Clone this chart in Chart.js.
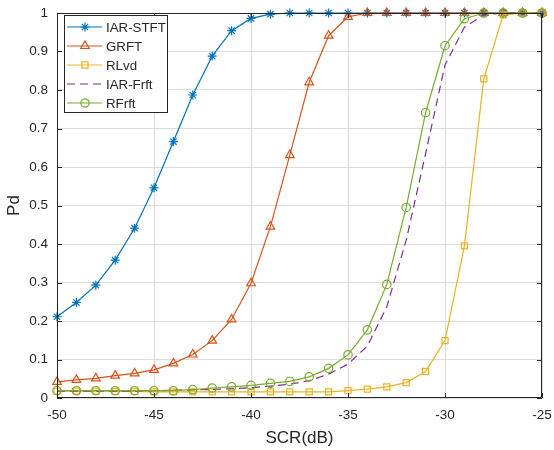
<!DOCTYPE html>
<html>
<head>
<meta charset="utf-8">
<script src="https://cdn.jsdelivr.net/npm/chart.js@4/dist/chart.umd.min.js"></script>
<style>
  html, body { margin: 0; padding: 0; background: #fff; }
  #wrap { width: 554px; height: 450px; }
</style>
</head>
<body>
<div id="wrap"><canvas id="pdChart" width="554" height="450"></canvas></div>
<script>
// SCR in dB, one sample per dB
const scr = [-50, -49, -48, -47, -46, -45, -44, -43, -42, -41, -40, -39, -38,
             -37, -36, -35, -34, -33, -32, -31, -30, -29, -28, -27, -26, -25];

// detection probability per method
const iarStft = [0.211, 0.248, 0.293, 0.358, 0.441, 0.546, 0.666, 0.787, 0.888, 0.954, 0.986, 0.997, 1,
                 1, 1, 1, 1, 1, 1, 1, 1, 1, 1, 1, 1, 1];
const grft = [0.042, 0.047, 0.051, 0.058, 0.064, 0.073, 0.090, 0.113, 0.149, 0.204, 0.298, 0.445, 0.631,
              0.820, 0.941, 0.990, 1, 1, 1, 1, 1, 1, 1, 1, 1, 1];
const rlvd = [0.018, 0.018, 0.018, 0.017, 0.017, 0.016, 0.016, 0.016, 0.016, 0.016, 0.016, 0.016, 0.016,
              0.016, 0.016, 0.019, 0.023, 0.029, 0.040, 0.069, 0.149, 0.395, 0.829, 0.995, 1, 1];
const iarFrft = [0.018, 0.018, 0.018, 0.018, 0.018, 0.019, 0.020, 0.021, 0.022, 0.024, 0.027, 0.031, 0.036,
                 0.045, 0.062, 0.088, 0.135, 0.237, 0.410, 0.635, 0.865, 0.963, 0.995, 1, 1, 1];
const rfrft = [0.019, 0.019, 0.019, 0.019, 0.019, 0.019, 0.019, 0.022, 0.026, 0.029, 0.033, 0.038, 0.043,
               0.055, 0.077, 0.112, 0.177, 0.295, 0.495, 0.741, 0.915, 0.985, 1, 1, 1, 1];

const xTicks = ['-50', '-45', '-40', '-35', '-30', '-25'];
const yTicks = ['0', '0.1', '0.2', '0.3', '0.4', '0.5', '0.6', '0.7', '0.8', '0.9', '1'];

const FONT = '"Liberation Sans", Arial, Helvetica, sans-serif';
const AXIS = '#262626';
const CLEAR = 'rgba(0,0,0,0)';

function pts(arr) {
    return scr.map((x, i) => ({ x: x, y: arr[i] }));
}

const series = [
    { label: 'IAR-STFT', data: iarStft, color: '#0072BD', style: 'star', r: 4.5, dash: [] },
    { label: 'GRFT', data: grft, color: '#D95319', style: 'triangle', r: 5, dash: [] },
    { label: 'RLvd', data: rlvd, color: '#EDB120', style: 'rect', r: 4.3, dash: [] },
    { label: 'IAR-Frft', data: iarFrft, color: '#7E2F8E', style: false, r: 0, dash: [8, 5] },
    { label: 'RFrft', data: rfrft, color: '#77AC30', style: 'circle', r: 4.2, dash: [] }
];

// box around the axes with inward tick marks
const framePlugin = {
    id: 'frame',
    afterDatasetsDraw(chart) {
        const { ctx, chartArea: a, scales } = chart;
        ctx.save();
        ctx.strokeStyle = AXIS;
        ctx.lineWidth = 1;
        ctx.beginPath();
        ctx.moveTo(a.left + 0.5, a.top + 0.5);
        ctx.lineTo(a.right - 0.5, a.top + 0.5);
        ctx.lineTo(a.right - 0.5, a.bottom - 0.5);
        ctx.lineTo(a.left + 0.5, a.bottom - 0.5);
        ctx.closePath();
        ctx.stroke();
        ctx.beginPath();
        scales.y.ticks.forEach(t => {
            const y = Math.round(scales.y.getPixelForValue(t.value)) + 0.5;
            ctx.moveTo(a.left, y); ctx.lineTo(a.left + 5, y);
            ctx.moveTo(a.right, y); ctx.lineTo(a.right - 5, y);
        });
        scales.x.ticks.forEach(t => {
            const x = Math.round(scales.x.getPixelForValue(t.value)) + 0.5;
            ctx.moveTo(x, a.bottom); ctx.lineTo(x, a.bottom - 5);
            ctx.moveTo(x, a.top); ctx.lineTo(x, a.top + 5);
        });
        ctx.stroke();
        ctx.restore();
    }
};

// legend box in the upper left corner of the plot
const legendPlugin = {
    id: 'boxLegend',
    afterDraw(chart) {
        const ctx = chart.ctx;
        const bx = 64, by = 15, bw = 103, bh = 97;
        ctx.save();
        ctx.fillStyle = '#fff';
        ctx.fillRect(bx, by, bw, bh);
        ctx.strokeStyle = AXIS;
        ctx.lineWidth = 1;
        ctx.strokeRect(bx + 0.5, by + 0.5, bw, bh);
        ctx.font = '13.3px ' + FONT;
        ctx.textBaseline = 'middle';
        series.forEach((s, i) => {
            const y = 27 + i * 19;
            ctx.strokeStyle = s.color;
            ctx.lineWidth = 1.2;
            ctx.setLineDash(s.dash);
            ctx.beginPath();
            ctx.moveTo(67, y);
            ctx.lineTo(102, y);
            ctx.stroke();
            ctx.setLineDash([]);
            if (s.style) {
                ctx.fillStyle = CLEAR;
                Chart.helpers.drawPoint(ctx, {
                    pointStyle: s.style, radius: s.r, borderWidth: 1.2, rotation: 0
                }, 85, y);
            }
            ctx.fillStyle = AXIS;
            ctx.fillText(s.label, 106, y + 1);
        });
        ctx.restore();
    }
};

const ctx = document.getElementById('pdChart').getContext('2d');
const pdChart = new Chart(ctx, {
    type: 'line',
    data: {
        datasets: series.map((s, i) => ({
            label: s.label,
            data: pts(s.data),
            borderColor: s.color,
            borderWidth: 1.2,
            borderDash: s.dash,
            backgroundColor: CLEAR,
            pointStyle: s.style,
            pointRadius: s.r,
            pointHoverRadius: s.r,
            pointBorderColor: s.color,
            pointBorderWidth: 1.2,
            pointBackgroundColor: CLEAR,
            tension: 0,
            fill: false,
            clip: false,
            order: series.length - i
        }))
    },
    options: {
        responsive: false,
        animation: false,
        events: [],
        layout: { padding: { top: 13, right: 12, left: 0, bottom: 0 } },
        plugins: {
            legend: { display: false },
            tooltip: { enabled: false }
        },
        scales: {
            x: {
                type: 'linear',
                min: -50,
                max: -25,
                afterFit(scale) {
                    scale.height = 52;
                    scale.paddingLeft = 0;
                    scale.paddingRight = 0;
                },
                afterBuildTicks(scale) {
                    scale.ticks = xTicks.map(v => ({ value: Number(v) }));
                },
                ticks: {
                    callback: (v) => xTicks[xTicks.indexOf(String(v))],
                    color: AXIS,
                    font: { family: FONT, size: 13.5 },
                    padding: 9,
                    maxRotation: 0
                },
                grid: { color: '#dcdcdc', drawTicks: false, lineWidth: 1 },
                border: { display: false },
                title: {
                    display: true,
                    text: 'SCR(dB)',
                    color: AXIS,
                    font: { family: FONT, size: 17 },
                    padding: { top: 0, bottom: 1 }
                }
            },
            y: {
                type: 'linear',
                min: 0,
                max: 1,
                afterFit(scale) {
                    scale.width = 57;
                    scale.paddingTop = 0;
                    scale.paddingBottom = 0;
                },
                afterBuildTicks(scale) {
                    scale.ticks = yTicks.map(v => ({ value: Number(v) }));
                },
                ticks: {
                    callback: (v, i) => yTicks[i],
                    color: AXIS,
                    font: { family: FONT, size: 13.5 },
                    padding: 9
                },
                grid: { color: '#dcdcdc', drawTicks: false, lineWidth: 1 },
                border: { display: false },
                title: {
                    display: true,
                    text: 'Pd',
                    color: AXIS,
                    font: { family: FONT, size: 17 },
                    padding: { top: 4, bottom: 4 }
                }
            }
        }
    },
    plugins: [framePlugin, legendPlugin]
});
</script>
</body>
</html>
